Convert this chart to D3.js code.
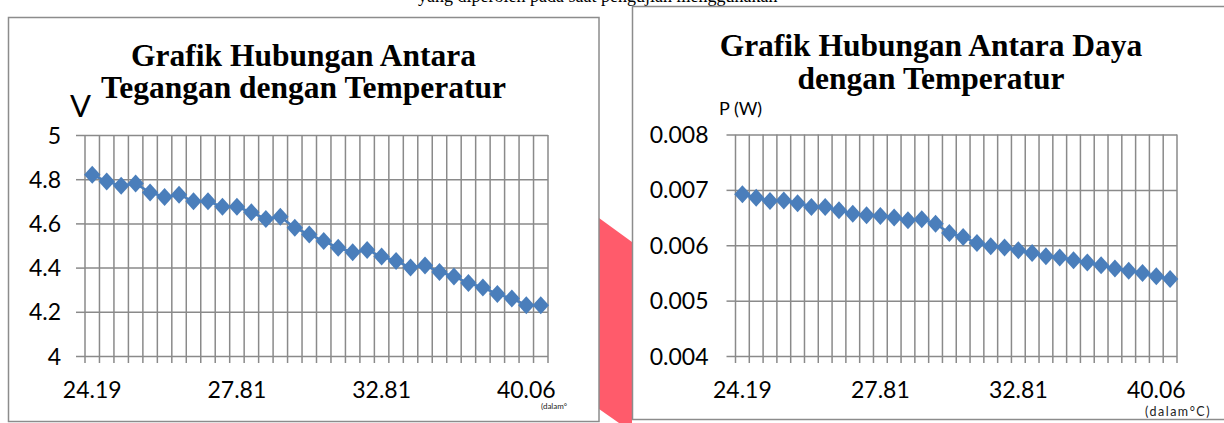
<!DOCTYPE html>
<html><head><meta charset="utf-8">
<script src="https://cdn.jsdelivr.net/npm/d3@7"></script>
<style>body{margin:0;background:#fff}svg{display:block}</style>
</head><body>
<svg id="c" width="1224" height="423"></svg>
<script>
// ---- data ----
const categories = d3.range(1, 33);               // 32 measurement points
const xTickLabels = ["24.19", "27.81", "32.81", "40.06"];
const xTickIndex = [0, 10, 20, 30];
const voltage = [4.82, 4.79, 4.77, 4.78, 4.74, 4.72, 4.73, 4.70, 4.70, 4.675, 4.675, 4.65, 4.62, 4.63, 4.58, 4.55,
                 4.52, 4.49, 4.47, 4.48, 4.45, 4.43, 4.40, 4.41, 4.38, 4.36, 4.33, 4.31, 4.28, 4.26, 4.23, 4.23];
const power = [0.00692, 0.00686, 0.00680, 0.00681, 0.00676, 0.00669, 0.00669, 0.00663, 0.00657, 0.00654, 0.00653,
               0.00650, 0.00645, 0.00647, 0.00639, 0.00622, 0.00615, 0.00604, 0.00598, 0.00596, 0.00591, 0.00586,
               0.00580, 0.00578, 0.00573, 0.00569, 0.00564, 0.00558, 0.00554, 0.00550, 0.00544, 0.00539];
const voltageTicks = [4, 4.2, 4.4, 4.6, 4.8, 5];
const powerTicks = [0.004, 0.005, 0.006, 0.007, 0.008];
const titleV = ["Grafik Hubungan Antara", "Tegangan dengan Temperatur"];
const titleP = ["Grafik Hubungan Antara Daya", "dengan Temperatur"];

const svg = d3.select("#c");
const BLUE = "#4a7ebb", GRID = "#8a8a8a";

// background caption fragment (cut at top)
svg.append("text").attr("x", 418).attr("y", 2)
  .attr("font-family", "Liberation Serif").attr("font-size", 18)
  .text("yang diperoleh pada saat pengujian menggunakan");

// red decorative shape between charts
svg.append("polygon").attr("points", "599,218 632,242 632,423 619,423 599,409").attr("fill", "#ff5b6b");

function drawChart(cfg) {
  const g = svg.append("g");
  g.append("rect").attr("x", cfg.box[0]).attr("y", cfg.box[1]).attr("width", cfg.box[2]).attr("height", cfg.box[3])
    .attr("fill", "#fff").attr("stroke", "#8c8c8c").attr("stroke-width", 1.5);

  const x = d3.scaleBand().domain(categories).range([cfg.x0, cfg.x1]).padding(0);
  const y = d3.scaleLinear().domain(cfg.domain).range([cfg.y1, cfg.y0]);

  // vertical gridlines at category boundaries (+ tick marks below)
  const bounds = categories.map(c => x(c)).concat([cfg.x1]);
  g.selectAll(".vg").data(bounds).join("line")
    .attr("x1", d => d).attr("x2", d => d).attr("y1", cfg.y0).attr("y2", cfg.y1 + 7)
    .attr("stroke", GRID).attr("stroke-width", 1.5);

  // y axis with horizontal gridlines
  const yAxis = d3.axisLeft(y).tickValues(cfg.ticks).tickSize(9).tickFormat(cfg.fmt);
  const ya = g.append("g").attr("transform", `translate(${cfg.x0},0)`).call(yAxis);
  ya.select(".domain").remove();
  ya.selectAll(".tick line").attr("stroke", GRID).attr("stroke-width", 1.5);
  ya.selectAll(".tick").append("line").attr("x1", 0).attr("x2", cfg.x1 - cfg.x0)
    .attr("stroke", GRID).attr("stroke-width", 1.5);
  ya.selectAll(".tick text").attr("x", -cfg.labelGap).attr("dy", "0.35em")
    .attr("font-family", "Lato").attr("font-size", 23).attr("fill", "#000");

  // x tick labels
  g.selectAll(".xl").data(xTickIndex).join("text")
    .attr("x", (d) => x(categories[d]) + x.bandwidth() / 2).attr("y", 398)
    .attr("text-anchor", "middle").attr("font-family", "Lato").attr("font-size", 23)
    .text((d, i) => xTickLabels[i]);

  // line + diamonds
  const pts = cfg.values.map((v, i) => [x(categories[i]) + x.bandwidth() / 2, y(v)]);
  g.append("path").attr("d", d3.line()(pts)).attr("fill", "none").attr("stroke", BLUE).attr("stroke-width", 2.5);
  g.selectAll(".m").data(pts).join("path")
    .attr("d", d => `M${d[0]},${d[1] - 9}L${d[0] + 8.2},${d[1]}L${d[0]},${d[1] + 9}L${d[0] - 8.2},${d[1]}Z`)
    .attr("fill", BLUE);

  // title
  cfg.title.forEach((t, i) => {
    g.append("text").attr("x", cfg.tx).attr("y", cfg.ty[i]).attr("text-anchor", "middle")
      .attr("font-family", "Liberation Serif").attr("font-weight", "bold").attr("font-size", 31.5).text(t);
  });
  // axis title
  g.append("text").attr("x", cfg.yt[0]).attr("y", cfg.yt[1]).attr("font-family", "Lato")
    .attr("font-size", cfg.yt[2]).text(cfg.yTitle);
  // unit note
  g.append("text").attr("x", cfg.note[0]).attr("y", cfg.note[1]).attr("font-family", "Lato")
    .attr("font-size", cfg.note[2]).attr("letter-spacing", cfg.note[3]).attr("fill", "#222").text(cfg.noteText);
}

drawChart({
  box: [8.5, 17.5, 590.5, 404], x0: 85, x1: 548, y0: 135, y1: 356,
  domain: [4, 5], ticks: voltageTicks, fmt: d => String(d), labelGap: 24,
  values: voltage, title: titleV, tx: 303.5, ty: [66, 98],
  yTitle: "V", yt: [70, 117, 31], noteText: "(dalam°", note: [541, 409, 8, 0]
});
drawChart({
  box: [632.5, 6.5, 600, 413], x0: 735.5, x1: 1177, y0: 134.5, y1: 356,
  domain: [0.004, 0.008], ticks: powerTicks, fmt: d => d.toFixed(3), labelGap: 27,
  values: power, title: titleP, tx: 931, ty: [56, 89],
  yTitle: "P (W)", yt: [719, 115, 18], noteText: "(dalam°C)", note: [1145, 416, 12.5, 1.5]
});
</script>
</body></html>
